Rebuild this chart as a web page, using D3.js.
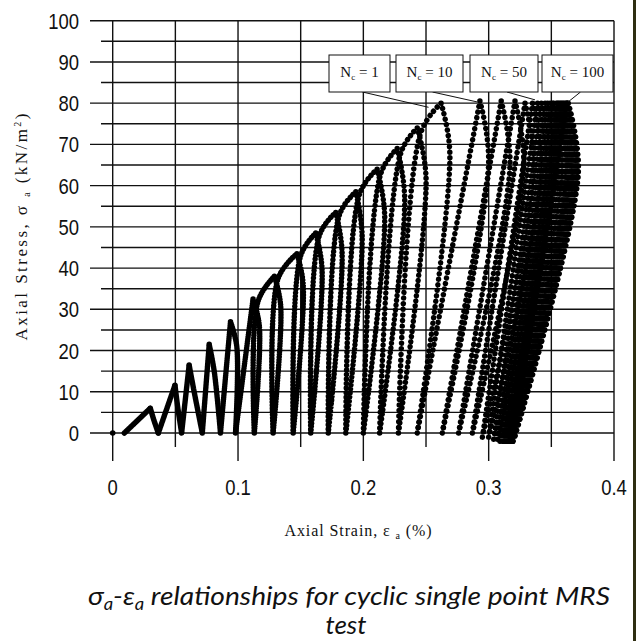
<!DOCTYPE html>
<html lang="en">
<head>
<meta charset="UTF-8" />
<title>Cyclic single point MRS test</title>
<script src="https://d3js.org/d3.v7.min.js"></script>
<style>
  body { margin: 0; background: #fff; }
  svg { display: block; }
  .tick-label { font-family: "Liberation Sans", Arial, sans-serif; font-size: 22px; fill: #111; }
  .axis-title { font-family: "Liberation Serif", "Times New Roman", serif; fill: #111; }
  .box-text { font-family: "Liberation Serif", "Times New Roman", serif; font-size: 15px; fill: #111; }
  .caption { font-family: Lato, "Open Sans", sans-serif; font-style: italic; font-size: 26px; fill: #111; }
</style>
</head>
<body>
<svg width="636" height="641"></svg>
<script>
// axis ticks
const xTicks = [0, 0.1, 0.2, 0.3, 0.4];
const yTicks = [0, 10, 20, 30, 40, 50, 60, 70, 80, 90, 100];

// first reading and start of the loading curve (strain %)
const firstPoint = [0, 0];
const curveStartStrain = 0.0093;

// staged loading: peak of each stage, the bend on unloading, the trough reached
const stagePeakStress = [6, 11.6, 16.5, 21.5, 27, 32.5, 38, 43.5, 48.5, 53.5, 58.5, 64, 69, 74];
const stagePeakStrain = [0.030, 0.0497, 0.061, 0.077, 0.094, 0.112, 0.129, 0.147, 0.162, 0.178, 0.194, 0.211, 0.227, 0.243];
const stageKneeStrain = [0.033, 0.052, 0.065, 0.081, 0.099, 0.117, 0.134, 0.152, 0.167, 0.183, 0.199, 0.217, 0.233, 0.250];
const stageKneeStress = [3, 6, 10, 15, 21, 26, 31, 36, 40, 44, 48, 53, 57, 62];
const stageTroughStrain = [0.0364, 0.055, 0.0715, 0.086, 0.098, 0.113, 0.128, 0.144, 0.158, 0.172, 0.186, 0.200, 0.213, 0.228];
// where each reloading meets the previous peak again (null: straight to the next peak)
const reloadJoinStrain = [null, null, null, null, null, 0.116, 0.132, 0.150, 0.165, 0.181, 0.197, 0.214, 0.230, 0.246];
const reloadJoinStress = [null, null, null, null, null, 32, 37.5, 43, 48, 53, 58, 63, 68, 73];

// cyclic loading at 80 kPa (first entry is N_c = 1)
const cycPeakStrain = [0.262, 0.293, 0.310, 0.321, 0.329, 0.335, 0.339, 0.342, 0.345, 0.347, 0.349, 0.351, 0.352,
  0.354, 0.355, 0.356, 0.357, 0.358, 0.359, 0.360, 0.361, 0.362, 0.3625, 0.363, 0.3635];
const cycPeakStress = [80, 80.5, 80.5, 80.5, 80, 80, 80, 80, 80, 80, 80, 80, 80,
  80, 80, 80, 80, 80, 80, 80, 80, 80, 80, 80, 80];
const cycKneeStrain = [0.269, 0.300, 0.317, 0.328, 0.336, 0.342, 0.346, 0.349, 0.352, 0.354, 0.356, 0.358, 0.359,
  0.361, 0.362, 0.363, 0.364, 0.365, 0.366, 0.367, 0.368, 0.369, 0.370, 0.371, 0.3715];
const cycKneeStress = [68, 66, 65, 65, 64, 64, 64, 64, 64, 63, 63, 63, 63,
  63, 63, 63, 63, 63, 63, 63, 63, 63, 63, 63, 63];
const cycTroughStrain = [0.243, 0.263, 0.276, 0.287, 0.295, 0.300, 0.304, 0.307, 0.309, 0.311, 0.312, 0.313, 0.314,
  0.315, 0.3155, 0.316, 0.3165, 0.317, 0.3175, 0.318, 0.3185, 0.319, 0.3192, 0.3195, 0.3198];
const cycTroughStress = [0, 0, 0, 0, -1, -1, -1.5, -1.5, -2, -2, -2, -2, -2,
  -2, -2, -2, -2, -2, -2, -2, -2, -2, -2, -2, -2];

// cycle labels
const ncLabels = ["1", "10", "50", "100"];
const ncStrain = [0.252, 0.2908, 0.337, 0.3634];
const ncStress = [79, 80.3, 80.8, 80.3];

const svg = d3.select("svg");

const x = d3.scaleLinear().domain([0, 0.4]).range([112.7, 614]);
const y = d3.scaleLinear().domain([0, 100]).range([433, 20.7]);

// right border strip
svg.append("rect").attr("x", 633).attr("y", 0).attr("width", 3).attr("height", 641).attr("fill", "#2f2e12");

// horizontal grid lines (every 5, longer at the labelled ones)
const grid = svg.append("g").attr("stroke", "#111").attr("stroke-width", 1.4);
d3.range(0, 101, 5).forEach(v => {
  grid.append("line")
    .attr("x1", v % 10 === 0 ? 90 : 101).attr("x2", x(0.4))
    .attr("y1", y(v)).attr("y2", y(v));
});
// vertical grid lines (every 0.05, longer at the labelled ones)
d3.range(0, 9).forEach(i => {
  const v = i * 0.05;
  grid.append("line")
    .attr("x1", x(v)).attr("x2", x(v))
    .attr("y1", y(100)).attr("y2", i % 2 === 0 ? 461 : 447);
});

// tick labels
svg.append("g").selectAll("text").data(yTicks).join("text")
  .attr("class", "tick-label")
  .attr("text-anchor", "end")
  .attr("transform", d => `translate(79,${y(d) + 8}) scale(0.84,1)`)
  .text(d => d);

svg.append("g").selectAll("text").data(xTicks).join("text")
  .attr("class", "tick-label")
  .attr("text-anchor", "middle")
  .attr("transform", d => `translate(${x(d)},495) scale(0.84,1)`)
  .text(d => d);

// axis titles
const yTitle = svg.append("text")
  .attr("class", "axis-title")
  .attr("font-size", 17)
  .attr("text-anchor", "middle")
  .attr("transform", "translate(27,227) rotate(-90)")
  .attr("textLength", 227)
  .attr("lengthAdjust", "spacing");
yTitle.append("tspan").text("Axial Stress, σ ");
yTitle.append("tspan").attr("font-size", 10).attr("dy", 3).text("a");
yTitle.append("tspan").attr("dy", -3).text(" (kN/m");
yTitle.append("tspan").attr("font-size", 10).attr("dy", -6).text("2");
yTitle.append("tspan").attr("dy", 6).text(")");

const xTitle = svg.append("text")
  .attr("class", "axis-title")
  .attr("font-size", 16)
  .attr("text-anchor", "middle")
  .attr("x", 358).attr("y", 536)
  .attr("textLength", 147)
  .attr("lengthAdjust", "spacing");
xTitle.append("tspan").text("Axial Strain, ε ");
xTitle.append("tspan").attr("font-size", 10).attr("dy", 3).text("a");
xTitle.append("tspan").attr("dy", -3).text(" (%)");

// build loading / unloading branches from the turning points
const branches = [];
let prev = [curveStartStrain, 0];
let join = null;
stagePeakStrain.forEach((s, i) => {
  const peak = [s, stagePeakStress[i]];
  const knee = [stageKneeStrain[i], stageKneeStress[i]];
  const trough = [stageTroughStrain[i], 0];
  branches.push(join ? [prev, join, peak] : [prev, peak]);
  branches.push([peak, knee, trough]);
  prev = trough;
  join = reloadJoinStrain[i] === null ? null : [reloadJoinStrain[i], reloadJoinStress[i]];
});
cycPeakStrain.forEach((s, i) => {
  const peak = [s, cycPeakStress[i]];
  const knee = [cycKneeStrain[i], cycKneeStress[i]];
  const trough = [cycTroughStrain[i], cycTroughStress[i]];
  branches.push(join ? [prev, join, peak] : [prev, peak]);
  branches.push([peak, knee, trough]);
  prev = trough;
  join = null;
});

const line = d3.line()
  .x(d => x(d[0])).y(d => y(d[1]))
  .curve(d3.curveCatmullRom.alpha(0.5));
const samplesPerBranch = 60;

const curve = svg.append("g")
  .attr("fill", "none")
  .attr("stroke", "#000")
  .attr("stroke-width", 5.5)
  .attr("stroke-linecap", "round");

branches.forEach(b => {
  const p = curve.append("path").attr("d", line(b));
  const len = p.node().getTotalLength();
  const gap = len / samplesPerBranch;
  p.attr("stroke-dasharray", `0.001 ${gap}`);
});

svg.append("circle")
  .attr("cx", x(firstPoint[0])).attr("cy", y(firstPoint[1]))
  .attr("r", 2.8).attr("fill", "#000");

// N_c annotation boxes with leader lines
const boxX = [329, 396, 470, 542];
const boxW = [61, 67, 68, 71];
const boxTop = 55, boxBottom = 92;
const ann = svg.append("g");
ncLabels.forEach((lab, i) => {
  const cx = boxX[i] + boxW[i] / 2;
  ann.append("line")
    .attr("x1", cx + 3).attr("y1", boxBottom)
    .attr("x2", x(ncStrain[i])).attr("y2", y(ncStress[i]))
    .attr("stroke", "#111").attr("stroke-width", 1);
  ann.append("rect")
    .attr("x", boxX[i]).attr("y", boxTop)
    .attr("width", boxW[i]).attr("height", boxBottom - boxTop)
    .attr("fill", "#fff").attr("stroke", "#111").attr("stroke-width", 1);
  const t = ann.append("text").attr("class", "box-text")
    .attr("x", cx).attr("y", 77).attr("text-anchor", "middle");
  t.append("tspan").text("N");
  t.append("tspan").attr("font-size", 9).attr("dy", 3).text("c");
  t.append("tspan").attr("dy", -3).text(" = " + lab);
});

// caption
const cap1 = svg.append("text").attr("class", "caption")
  .attr("x", 349).attr("y", 605).attr("text-anchor", "middle")
  .attr("textLength", 522).attr("lengthAdjust", "spacingAndGlyphs");
cap1.append("tspan").text("σ");
cap1.append("tspan").attr("font-size", 17).attr("dy", 5).text("a");
cap1.append("tspan").attr("dy", -5).text("-ε");
cap1.append("tspan").attr("font-size", 17).attr("dy", 5).text("a");
cap1.append("tspan").attr("dy", -5).text(" relationships for cyclic single point MRS");

svg.append("text").attr("class", "caption")
  .attr("x", 346).attr("y", 634).attr("text-anchor", "middle")
  .text("test");
</script>
</body>
</html>
